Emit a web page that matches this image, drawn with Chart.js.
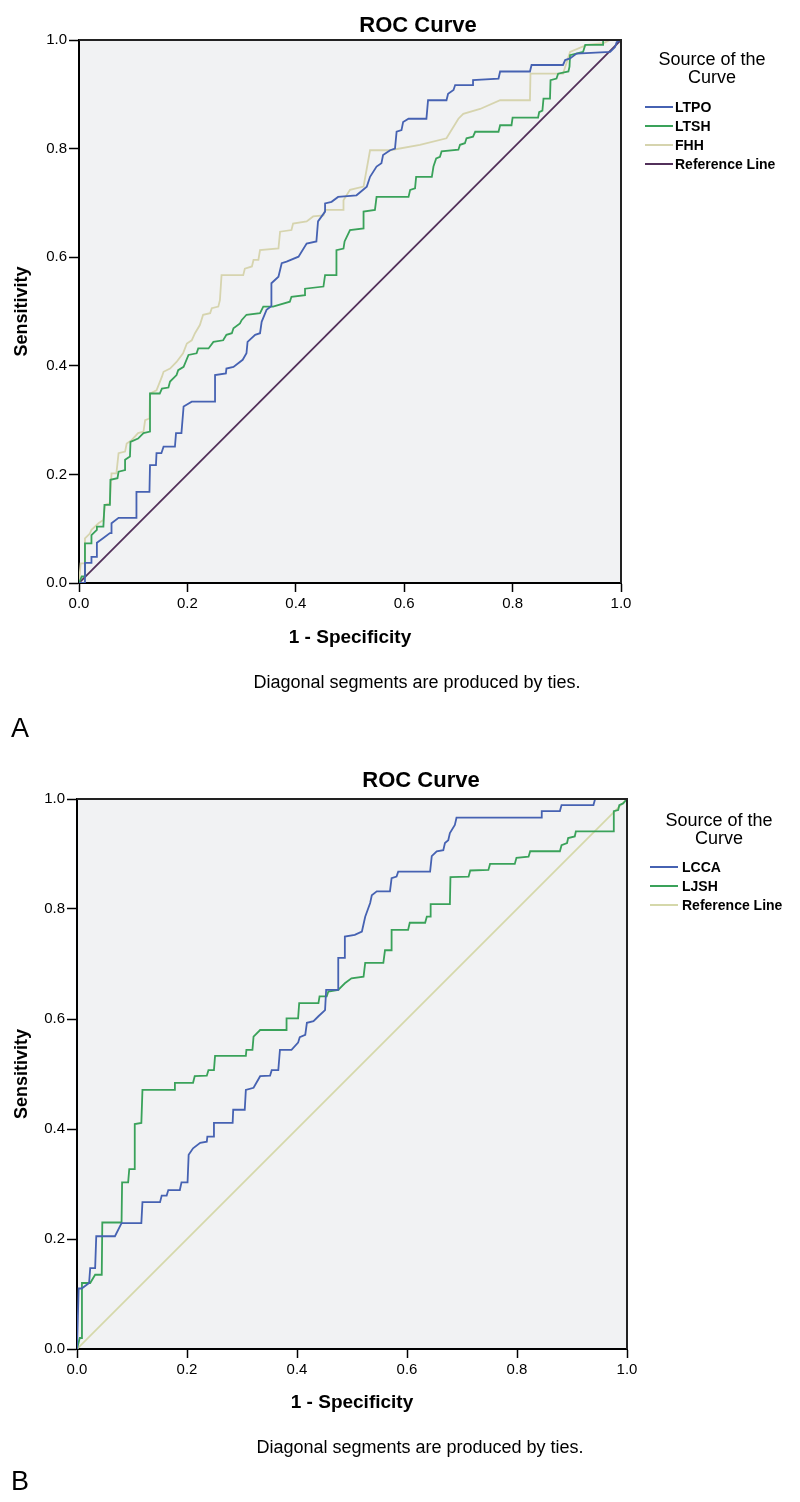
<!DOCTYPE html>
<html>
<head>
<meta charset="utf-8">
<script src="https://cdn.jsdelivr.net/npm/chart.js@4.4.1/dist/chart.umd.min.js"></script>
<style>
  html, body { margin: 0; padding: 0; background: #fff; }
  canvas { position: absolute; left: 0; }
  #chartA { top: 0; }
  #chartB { top: 752px; }
</style>
</head>
<body>
<canvas id="chartA" width="800" height="752"></canvas>
<canvas id="chartB" width="800" height="750"></canvas>
<script>
const FONT = "'Liberation Sans', Arial, sans-serif";

const tickValues = [0, 0.2, 0.4, 0.6, 0.8, 1.0];
const tickLabels = ['0.0', '0.2', '0.4', '0.6', '0.8', '1.0'];

// panel A
const seriesA = ['LTPO', 'LTSH', 'FHH', 'Reference Line'];

const ltpoX = [0, 0.011, 0.011, 0.023, 0.023, 0.033, 0.033, 0.045, 0.057, 0.06, 0.06, 0.073, 0.106, 0.106, 0.13, 0.131, 0.142, 0.143, 0.152, 0.156, 0.177, 0.179, 0.189, 0.193, 0.208, 0.251, 0.251, 0.271, 0.272, 0.285, 0.302, 0.309, 0.311, 0.325, 0.334, 0.337, 0.346, 0.355, 0.355, 0.368, 0.374, 0.383, 0.405, 0.42, 0.438, 0.441, 0.454, 0.454, 0.466, 0.478, 0.512, 0.531, 0.537, 0.549, 0.558, 0.561, 0.574, 0.583, 0.586, 0.595, 0.598, 0.608, 0.641, 0.644, 0.678, 0.681, 0.691, 0.694, 0.727, 0.727, 0.774, 0.777, 0.832, 0.835, 0.893, 0.897, 0.906, 0.918, 0.98, 0.989, 0.992, 1];
const ltpoY = [0, 0, 0.037, 0.037, 0.048, 0.048, 0.074, 0.083, 0.092, 0.092, 0.11, 0.12, 0.12, 0.168, 0.168, 0.217, 0.217, 0.239, 0.239, 0.251, 0.251, 0.276, 0.276, 0.325, 0.334, 0.334, 0.383, 0.386, 0.395, 0.398, 0.411, 0.423, 0.444, 0.457, 0.46, 0.481, 0.503, 0.51, 0.552, 0.564, 0.589, 0.592, 0.601, 0.625, 0.629, 0.666, 0.684, 0.699, 0.702, 0.711, 0.714, 0.73, 0.748, 0.767, 0.773, 0.788, 0.797, 0.8, 0.831, 0.834, 0.849, 0.855, 0.855, 0.889, 0.889, 0.901, 0.908, 0.917, 0.917, 0.926, 0.929, 0.942, 0.942, 0.954, 0.954, 0.963, 0.966, 0.975, 0.978, 0.987, 0.996, 1];

const ltshX = [0, 0.005, 0.011, 0.011, 0.023, 0.023, 0.033, 0.033, 0.045, 0.047, 0.057, 0.058, 0.071, 0.073, 0.085, 0.085, 0.094, 0.095, 0.109, 0.119, 0.131, 0.131, 0.149, 0.153, 0.165, 0.168, 0.18, 0.183, 0.193, 0.202, 0.217, 0.22, 0.239, 0.248, 0.266, 0.272, 0.282, 0.285, 0.297, 0.3, 0.309, 0.334, 0.34, 0.358, 0.389, 0.392, 0.417, 0.417, 0.451, 0.454, 0.475, 0.475, 0.488, 0.49, 0.5, 0.525, 0.525, 0.546, 0.549, 0.608, 0.611, 0.62, 0.622, 0.651, 0.654, 0.659, 0.666, 0.669, 0.7, 0.703, 0.712, 0.715, 0.727, 0.731, 0.774, 0.777, 0.798, 0.8, 0.847, 0.849, 0.855, 0.857, 0.869, 0.87, 0.881, 0.884, 0.903, 0.905, 0.906, 0.93, 0.934, 0.967, 0.967, 1];
const ltshY = [0, 0.012, 0.012, 0.073, 0.073, 0.088, 0.098, 0.104, 0.104, 0.144, 0.144, 0.19, 0.193, 0.205, 0.208, 0.227, 0.233, 0.26, 0.266, 0.276, 0.279, 0.349, 0.349, 0.358, 0.36, 0.371, 0.383, 0.392, 0.398, 0.42, 0.423, 0.432, 0.432, 0.444, 0.447, 0.457, 0.46, 0.469, 0.478, 0.484, 0.494, 0.497, 0.509, 0.509, 0.518, 0.527, 0.53, 0.542, 0.546, 0.567, 0.567, 0.613, 0.616, 0.629, 0.65, 0.653, 0.684, 0.687, 0.711, 0.711, 0.724, 0.727, 0.748, 0.748, 0.767, 0.782, 0.785, 0.795, 0.798, 0.807, 0.81, 0.819, 0.822, 0.831, 0.831, 0.843, 0.843, 0.857, 0.857, 0.867, 0.87, 0.892, 0.892, 0.926, 0.929, 0.938, 0.942, 0.951, 0.972, 0.978, 0.991, 0.991, 1, 1];

const fhhX = [0, 0.003, 0.011, 0.011, 0.02, 0.023, 0.036, 0.045, 0.048, 0.057, 0.06, 0.069, 0.073, 0.085, 0.088, 0.097, 0.109, 0.119, 0.122, 0.13, 0.131, 0.143, 0.153, 0.156, 0.168, 0.18, 0.192, 0.199, 0.208, 0.214, 0.223, 0.229, 0.242, 0.245, 0.257, 0.26, 0.263, 0.303, 0.306, 0.319, 0.322, 0.331, 0.334, 0.368, 0.371, 0.392, 0.395, 0.42, 0.432, 0.451, 0.454, 0.488, 0.488, 0.5, 0.525, 0.537, 0.574, 0.629, 0.678, 0.7, 0.709, 0.74, 0.777, 0.832, 0.833, 0.893, 0.906, 0.937, 0.967, 0.98, 1];
const fhhY = [0, 0.036, 0.036, 0.082, 0.091, 0.098, 0.11, 0.116, 0.144, 0.147, 0.202, 0.202, 0.239, 0.242, 0.257, 0.263, 0.276, 0.279, 0.3, 0.303, 0.349, 0.355, 0.38, 0.389, 0.395, 0.407, 0.423, 0.441, 0.447, 0.46, 0.475, 0.494, 0.497, 0.506, 0.509, 0.521, 0.567, 0.567, 0.579, 0.583, 0.595, 0.595, 0.613, 0.616, 0.647, 0.65, 0.662, 0.666, 0.675, 0.677, 0.687, 0.687, 0.705, 0.724, 0.73, 0.797, 0.797, 0.807, 0.819, 0.855, 0.864, 0.873, 0.889, 0.889, 0.938, 0.938, 0.978, 0.991, 0.994, 1, 1];

const refX = [0, 1];
const refY = [0, 1];

// panel B
const seriesB = ['LCCA', 'LJSH', 'Reference Line'];

const lccaX = [0, 0.003, 0.0085, 0.022, 0.024, 0.033, 0.035, 0.069, 0.081, 0.117, 0.119, 0.151, 0.154, 0.163, 0.166, 0.187, 0.19, 0.201, 0.203, 0.211, 0.224, 0.236, 0.237, 0.248, 0.249, 0.283, 0.284, 0.305, 0.307, 0.321, 0.333, 0.351, 0.354, 0.366, 0.369, 0.39, 0.402, 0.405, 0.415, 0.418, 0.43, 0.439, 0.451, 0.453, 0.475, 0.475, 0.487, 0.487, 0.505, 0.518, 0.524, 0.533, 0.536, 0.545, 0.569, 0.572, 0.581, 0.584, 0.642, 0.645, 0.654, 0.666, 0.669, 0.675, 0.678, 0.687, 0.69, 0.845, 0.845, 0.878, 0.881, 0.939, 0.942, 1];
const lccaY = [0, 0.11, 0.11, 0.12, 0.147, 0.147, 0.205, 0.205, 0.229, 0.229, 0.267, 0.267, 0.279, 0.279, 0.289, 0.289, 0.303, 0.303, 0.353, 0.365, 0.375, 0.377, 0.386, 0.386, 0.411, 0.411, 0.435, 0.435, 0.471, 0.475, 0.496, 0.497, 0.507, 0.507, 0.544, 0.544, 0.557, 0.567, 0.571, 0.593, 0.596, 0.605, 0.616, 0.653, 0.653, 0.711, 0.711, 0.75, 0.753, 0.759, 0.786, 0.811, 0.825, 0.832, 0.832, 0.856, 0.859, 0.868, 0.868, 0.896, 0.905, 0.907, 0.92, 0.925, 0.938, 0.953, 0.966, 0.966, 0.978, 0.978, 0.989, 0.989, 1, 1];

const ljshX = [0, 0.005, 0.009, 0.009, 0.024, 0.033, 0.045, 0.046, 0.081, 0.082, 0.093, 0.095, 0.104, 0.105, 0.117, 0.119, 0.178, 0.178, 0.211, 0.214, 0.236, 0.239, 0.249, 0.251, 0.307, 0.308, 0.319, 0.321, 0.333, 0.381, 0.381, 0.402, 0.404, 0.439, 0.441, 0.454, 0.457, 0.475, 0.487, 0.499, 0.521, 0.524, 0.557, 0.56, 0.571, 0.572, 0.602, 0.605, 0.633, 0.636, 0.642, 0.643, 0.678, 0.679, 0.712, 0.715, 0.748, 0.751, 0.796, 0.799, 0.821, 0.824, 0.878, 0.881, 0.891, 0.893, 0.905, 0.907, 0.975, 0.976, 0.984, 0.986, 0.993, 1];
const ljshY = [0, 0.02, 0.02, 0.12, 0.12, 0.135, 0.135, 0.23, 0.23, 0.303, 0.303, 0.327, 0.327, 0.409, 0.411, 0.471, 0.471, 0.484, 0.484, 0.496, 0.497, 0.507, 0.507, 0.533, 0.533, 0.544, 0.544, 0.568, 0.58, 0.58, 0.601, 0.601, 0.629, 0.629, 0.641, 0.641, 0.65, 0.653, 0.665, 0.674, 0.677, 0.702, 0.702, 0.725, 0.725, 0.762, 0.762, 0.775, 0.775, 0.786, 0.786, 0.809, 0.809, 0.858, 0.859, 0.87, 0.871, 0.882, 0.882, 0.893, 0.895, 0.905, 0.905, 0.916, 0.92, 0.929, 0.932, 0.941, 0.941, 0.978, 0.98, 0.989, 0.992, 1];

function toPoints(xs, ys) {
  return xs.map((x, i) => ({ x: x, y: ys[i] }));
}

function lineSet(label, xs, ys, color) {
  return {
    label: label,
    data: toPoints(xs, ys),
    showLine: true,
    borderColor: color,
    backgroundColor: color,
    borderWidth: 1.8,
    pointRadius: 0,
    tension: 0,
    fill: false
  };
}

// background, frame and the texts SPSS puts round the plot
const panelDecor = {
  id: 'panelDecor',
  beforeDraw(chart, args, o) {
    const { ctx, chartArea: a } = chart;
    ctx.save();
    ctx.fillStyle = '#f1f2f3';
    ctx.fillRect(a.left, a.top, a.right - a.left, a.bottom - a.top);
    ctx.restore();
  },
  afterDraw(chart, args, o) {
    const { ctx, chartArea: a } = chart;
    ctx.save();
    ctx.strokeStyle = '#222';
    ctx.lineWidth = 2;
    ctx.beginPath();
    ctx.moveTo(a.left, a.top);
    ctx.lineTo(a.right, a.top);
    ctx.lineTo(a.right, a.bottom);
    ctx.stroke();

    ctx.fillStyle = '#000';
    ctx.textAlign = 'center';
    ctx.textBaseline = 'alphabetic';
    ctx.font = 'bold 22px ' + FONT;
    ctx.fillText(o.title, o.titleX, o.titleY);

    ctx.font = '18px ' + FONT;
    ctx.fillText('Source of the', o.legX, o.legY);
    ctx.fillText('Curve', o.legX, o.legY + 18);

    ctx.font = 'bold 14px ' + FONT;
    ctx.textAlign = 'left';
    ctx.textBaseline = 'middle';
    chart.data.datasets.forEach((ds, i) => {
      const y = o.itemY + i * 19;
      ctx.strokeStyle = ds.borderColor;
      ctx.lineWidth = 2;
      ctx.beginPath();
      ctx.moveTo(o.lineX0, y);
      ctx.lineTo(o.lineX1, y);
      ctx.stroke();
      ctx.fillText(ds.label, o.textX, y + 1);
    });

    ctx.textBaseline = 'alphabetic';
    ctx.textAlign = 'center';
    ctx.font = '18px ' + FONT;
    ctx.fillText('Diagonal segments are produced by ties.', o.noteX, o.noteY);

    ctx.textAlign = 'left';
    ctx.font = '27px ' + FONT;
    ctx.fillText(o.letter, 11, o.letterY);
    ctx.restore();
  }
};

function axis(titleText, isX, size, titlePad) {
  return {
    type: 'linear',
    min: 0,
    max: 1,
    afterBuildTicks: s => { s.ticks = tickValues.map(v => ({ value: v })); },
    ticks: {
      color: '#000',
      font: { family: FONT, size: 15 },
      padding: isX ? 3 : 2,
      callback: (v, i) => tickLabels[i]
    },
    grid: {
      drawOnChartArea: false,
      drawTicks: true,
      tickLength: isX ? 9 : 10,
      tickColor: '#000',
      tickWidth: 1.5
    },
    border: { display: true, color: '#000', width: 2 },
    title: {
      display: true,
      text: titleText,
      color: '#000',
      font: { family: FONT, size: isX ? 19 : 18, weight: 'bold' },
      padding: titlePad
    },
    afterFit: s => { if (isX) s.height = size; else s.width = size; }
  };
}

function makeChart(id, datasets, pad, yWidth, xHeight, decor) {
  return new Chart(document.getElementById(id), {
    type: 'scatter',
    data: { datasets: datasets },
    options: {
      responsive: false,
      animation: false,
      devicePixelRatio: 1,
      layout: { padding: pad },
      plugins: {
        legend: { display: false },
        tooltip: { enabled: false },
        panelDecor: decor
      },
      scales: {
        x: axis('1 - Specificity', true, xHeight, { top: 4, bottom: 4 }),
        y: axis('Sensitivity', false, yWidth, { top: 11, bottom: 4 })
      }
    },
    plugins: [panelDecor]
  });
}

makeChart('chartA', [
  lineSet(seriesA[0], ltpoX, ltpoY, '#4662b2'),
  lineSet(seriesA[1], ltshX, ltshY, '#3aa25a'),
  lineSet(seriesA[2], fhhX, fhhY, '#d6d4ae'),
  lineSet(seriesA[3], refX, refY, '#52305a')
], { left: 0, top: 40, right: 179, bottom: 99 }, 79, 70, {
  title: 'ROC Curve', titleX: 418, titleY: 32,
  legX: 712, legY: 65, itemY: 107, lineX0: 645, lineX1: 673, textX: 675,
  noteX: 417, noteY: 688, letter: 'A', letterY: 737
});

makeChart('chartB', [
  lineSet(seriesB[0], lccaX, lccaY, '#4662b2'),
  lineSet(seriesB[1], ljshX, ljshY, '#3aa25a'),
  lineSet(seriesB[2], refX, refY, '#d5d8aa')
], { left: 0, top: 47, right: 173, bottom: 84 }, 77, 69, {
  title: 'ROC Curve', titleX: 421, titleY: 35,
  legX: 719, legY: 74, itemY: 115, lineX0: 650, lineX1: 678, textX: 682,
  noteX: 420, noteY: 701, letter: 'B', letterY: 738
});
</script>
</body>
</html>
